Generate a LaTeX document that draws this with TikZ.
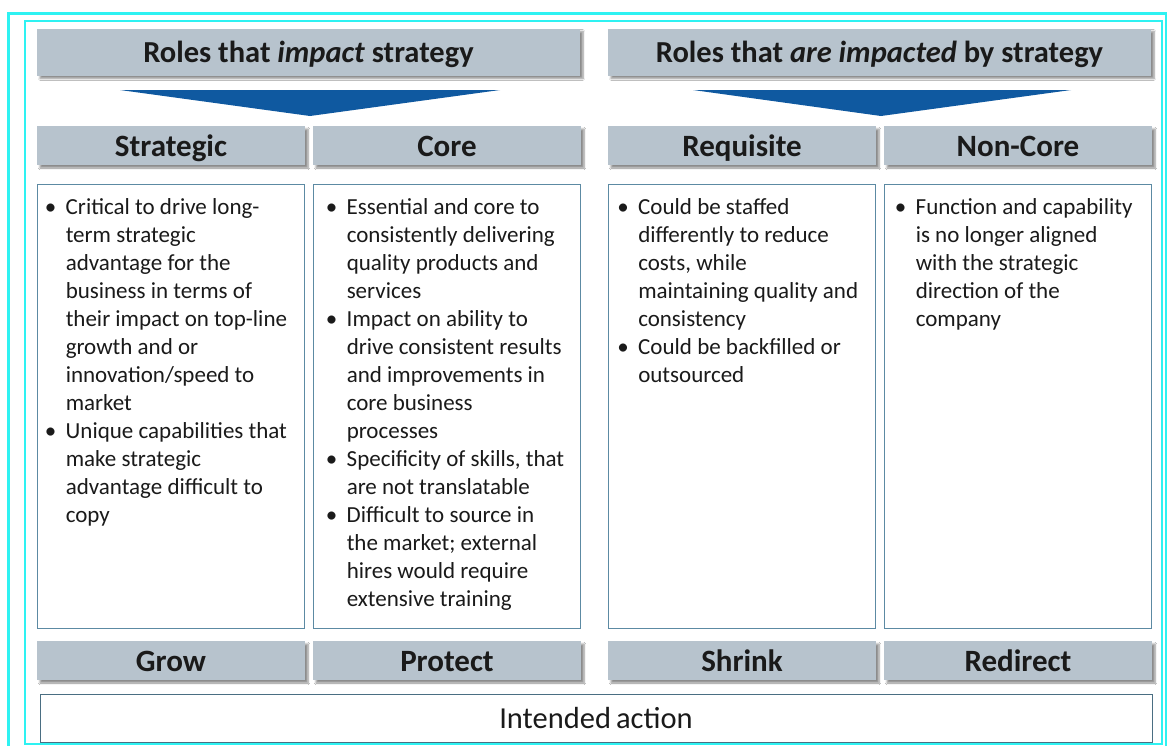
\documentclass[tikz,border=0pt]{standalone}
\usepackage{fontspec}
\setmainfont{Carlito}
\usepackage{xcolor}
\usepackage{tikz}
\usetikzlibrary{shadows,shadows.blur}

\definecolor{headfill}{HTML}{B7C3CD}
\definecolor{boxline}{HTML}{5C8AA3}
\definecolor{arrowblue}{HTML}{0F59A0}
\definecolor{framecyan}{HTML}{2EF2F2}
\definecolor{inkgray}{HTML}{1A1A1A}

\newcommand{\bitem}{\makebox[21pt][l]{\textbullet}}
\newcommand{\bcont}{\hspace*{21pt}}

\begin{document}
\begin{tikzpicture}[x=1pt, y=-1pt,
  headbox/.style={fill=headfill, minimum height=47pt, minimum width=543pt, inner sep=0pt,
    blur shadow={shadow xshift=3pt, shadow yshift=-3pt, shadow blur steps=6, shadow opacity=45},
    font=\fontsize{30.5}{34}\selectfont\bfseries, text=inkgray, text height=22pt, text depth=2pt},
  rolebox/.style={fill=headfill, minimum height=39pt, minimum width=268pt, inner sep=0pt,
    blur shadow={shadow xshift=3pt, shadow yshift=-3pt, shadow blur steps=6, shadow opacity=45},
    font=\fontsize{31}{34}\selectfont\bfseries, text=inkgray, text height=23pt, text depth=1pt},
  textbox/.style={draw=boxline, line width=0.9pt, fill=white, minimum height=444pt, minimum width=267pt, inner sep=0pt},
  bullets/.style={anchor=north west, align=left, inner sep=0pt, text=inkgray,
    font=\fontsize{23}{28}\selectfont}]
\useasboundingbox (0,0) rectangle (1167,745);
\fill[white] (0,0) rectangle (1167,745);
% frames
\draw[framecyan, line width=3pt] (8,13) rectangle (1166,790);
\draw[framecyan, line width=1.2pt] (25,21) rectangle (1162,744);

% headers
\node[headbox] (impact) at (308.5,52) {Roles that \textit{impact} strategy};
\node[headbox] (impacted) at (879.5,52) {Roles that \textit{are impacted} by strategy};
\fill[arrowblue] (120,90) -- (500,90) -- (310,116) -- cycle;
\fill[arrowblue] (693,90) -- (1071,90) -- (881,116) -- cycle;

% role types
\node[rolebox] (strategic) at (171,145.5) {Strategic};
\node[rolebox] (core) at (447,145.5) {Core};
\node[rolebox] (requisite) at (742,145.5) {Requisite};
\node[rolebox] (noncore) at (1018,145.5) {Non-Core};

% descriptions
\node[textbox] (strategictxt) at (170.5,406) {};
\node[textbox] (coretxt) at (446.5,406) {};
\node[textbox] (requisitetxt) at (742,406) {};
\node[textbox] (noncoretxt) at (1017.5,406) {};

\node[bullets] at ([shift={(8,15)}]strategictxt.north west) {\bitem Critical to drive long-\\
  \bcont term strategic\\ \bcont advantage for the\\ \bcont business in terms of\\
  \bcont their impact on top-line\\ \bcont growth and or\\ \bcont innovation/speed to\\
  \bcont market\\ \bitem Unique capabilities that\\ \bcont make strategic\\
  \bcont advantage difficult to\\ \bcont copy};
\node[bullets] at ([shift={(13,15)}]coretxt.north west) {\bitem Essential and core to\\
  \bcont consistently delivering\\ \bcont quality products and\\ \bcont services\\
  \bitem Impact on ability to\\ \bcont drive consistent results\\ \bcont and improvements in\\
  \bcont core business\\ \bcont processes\\ \bitem Specificity of skills, that\\
  \bcont are not translatable\\ \bitem Difficult to source in\\ \bcont the market; external\\
  \bcont hires would require\\ \bcont extensive training};
\node[bullets] at ([shift={(9,15)}]requisitetxt.north west) {\bitem Could be staffed\\
  \bcont differently to reduce\\ \bcont costs, while\\ \bcont maintaining quality and\\
  \bcont consistency\\ \bitem Could be backfilled or\\ \bcont outsourced};
\node[bullets] at ([shift={(11,15)}]noncoretxt.north west) {\bitem Function and capability\\
  \bcont is no longer aligned\\ \bcont with the strategic\\ \bcont direction of the\\
  \bcont company};

% actions
\node[rolebox] (grow) at (171,660.5) {Grow};
\node[rolebox] (protect) at (447,660.5) {Protect};
\node[rolebox] (shrink) at (742,660.5) {Shrink};
\node[rolebox] (redirect) at (1018,660.5) {Redirect};

\node[draw=boxline!80!black, line width=0.9pt, fill=white, minimum width=1112pt, minimum height=48pt,
  inner sep=0pt, font=\fontsize{30.5}{34}\selectfont, text=inkgray] (intended) at (596,718) {Intended\,action};
\end{tikzpicture}
\end{document}
